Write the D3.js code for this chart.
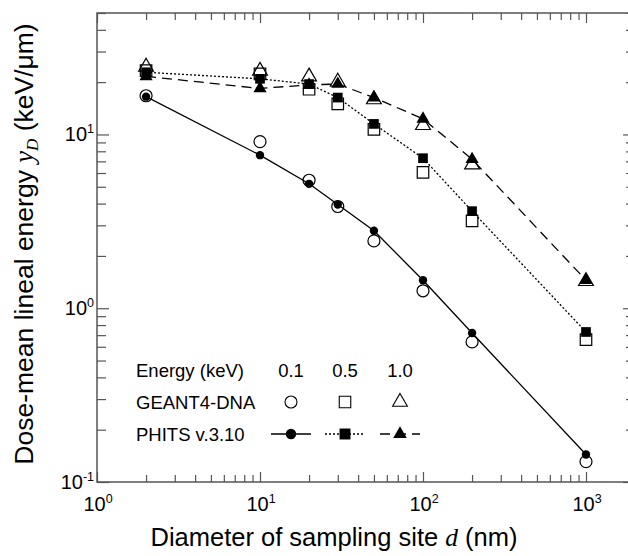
<!DOCTYPE html>
<html>
<head>
<meta charset="utf-8">
<script src="https://cdn.jsdelivr.net/npm/d3@7"></script>
<style>
  body { margin: 0; background: #fff; }
  svg { font-family: "Liberation Sans", Arial, sans-serif; }
</style>
</head>
<body>
<svg id="chart"></svg>
<script>
// diameters of the sampling site (nm)
const diameters = [2, 10, 20, 30, 50, 100, 200, 1000];

// dose-mean lineal energy yD (keV/um)
const geant01 = [16.7, 9.1, 5.45, 3.85, 2.44, 1.26, 0.64, 0.131];
const phits01 = [16.5, 7.6, 5.2, 3.95, 2.79, 1.45, 0.72, 0.144];
const geant05 = [23.3, 22.3, 18.2, 15.0, 10.7, 6.05, 3.18, 0.66];
const phits05 = [22.8, 20.9, 19.5, 16.3, 11.5, 7.3, 3.62, 0.73];
const geant10 = [24.5, 23.2, 21.5, 20.1, 15.9, 11.3, 6.7, 1.43];
const phits10 = [21.6, 18.4, 19.3, 19.5, 16.3, 12.3, 7.2, 1.45];

const energies = ["0.1", "0.5", "1.0"];
const xMajor = [1, 10, 100, 1000];
const yMajor = [0.1, 1, 10];
const xExp = ["0", "1", "2", "3"];
const yExp = ["-1", "0", "1"];

const width = 628, height = 556;
const svg = d3.select("#chart").attr("width", width).attr("height", height);

const x = d3.scaleLog().domain([1, 2000]).range([97, 97 + 163 * Math.log10(2000)]);
const y = d3.scaleLog().domain([0.1, 50]).range([482, 13]);

const x0 = x.range()[0], x1 = x.range()[1], y0 = y.range()[0], y1 = y.range()[1];

// minor tick values
function minors(lo, hi) {
  const out = [];
  for (let d = lo; d < hi; d *= 10)
    for (let k = 2; k <= 9; k++) if (d * k <= hi) out.push(d * k);
  return out;
}
const xMinor = minors(1, 2000);
const yMinor = minors(0.1, 50);

// frame
svg.append("rect")
  .attr("x", x0).attr("y", y1)
  .attr("width", x1 - x0).attr("height", y0 - y1)
  .attr("fill", "none").attr("stroke", "#555").attr("stroke-width", 1.5);

// ticks (pointing inward)
function tickAxis(axis, tr, vals, size) {
  const g = svg.append("g").attr("transform", tr)
    .call(axis.tickValues(vals).tickSize(-size).tickSizeOuter(0).tickFormat(""));
  g.select(".domain").remove();
  g.selectAll("line").attr("stroke", "#555").attr("stroke-width", 1.2);
}
tickAxis(d3.axisBottom(x), `translate(0,${y0})`, xMajor, 10);
tickAxis(d3.axisBottom(x), `translate(0,${y0})`, xMinor, 7);
tickAxis(d3.axisTop(x), `translate(0,${y1})`, xMajor, 10);
tickAxis(d3.axisTop(x), `translate(0,${y1})`, xMinor, 7);
tickAxis(d3.axisLeft(y), `translate(${x0},0)`, yMajor, 12);
tickAxis(d3.axisLeft(y), `translate(${x0},0)`, yMinor, 9);
tickAxis(d3.axisRight(y), `translate(${x1},0)`, yMajor, 12);
tickAxis(d3.axisRight(y), `translate(${x1},0)`, yMinor, 9);

// tick labels with superscripts
xMajor.forEach((v, i) => {
  const t = svg.append("text")
    .attr("x", x(v) + 1).attr("y", 511)
    .attr("text-anchor", "middle")
    .attr("font-size", 20);
  t.append("tspan").text("10");
  t.append("tspan").attr("dy", -8).attr("font-size", 12.5).text(xExp[i]);
});
yMajor.forEach((v, i) => {
  const t = svg.append("text")
    .attr("x", 94).attr("y", y(v) + 7)
    .attr("text-anchor", "end")
    .attr("font-size", 20);
  t.append("tspan").text("10");
  t.append("tspan").attr("dy", -8).attr("font-size", 12.5).text(yExp[i]);
});

// axis titles
const xt = svg.append("text")
  .attr("x", 334).attr("y", 546)
  .attr("text-anchor", "middle")
  .attr("font-size", 25.5);
xt.append("tspan").text("Diameter of sampling site ");
xt.append("tspan").attr("font-family", "Liberation Serif").attr("font-style", "italic").text("d");
xt.append("tspan").text(" (nm)");

const yt = svg.append("text")
  .attr("transform", `translate(33,244) rotate(-90)`)
  .attr("text-anchor", "middle")
  .attr("font-size", 26.5);
yt.append("tspan").text("Dose-mean lineal energy ");
yt.append("tspan").attr("font-family", "Liberation Serif").attr("font-style", "italic").text("y");
yt.append("tspan").attr("font-family", "Liberation Serif").attr("font-style", "italic")
  .attr("font-size", 17).attr("dy", 5).text("D");
yt.append("tspan").attr("dy", -5).text(" (keV/\u03bcm)");

// series
const series = [
  { geant: geant01, phits: phits01, shape: d3.symbolCircle, dash: null, openSize: 113, fillSize: 55, legFill: 85 },
  { geant: geant05, phits: phits05, shape: d3.symbolSquare, dash: "2,2", openSize: 132, fillSize: 94, legFill: 120 },
  { geant: geant10, phits: phits10, shape: d3.symbolTriangle, dash: "10,6", openSize: 95, fillSize: 75, legFill: 80 }
];

const line = d3.line().x(d => x(d[0])).y(d => y(d[1]));

series.forEach(s => {
  // open symbols (GEANT4-DNA)
  svg.append("g").selectAll("path")
    .data(diameters.map((d, i) => [d, s.geant[i]]))
    .join("path")
    .attr("transform", d => `translate(${x(d[0])},${y(d[1])})`)
    .attr("d", d3.symbol(s.shape, s.openSize))
    .attr("fill", "none").attr("stroke", "#000").attr("stroke-width", 1.2);
});

series.forEach(s => {
  const pts = diameters.map((d, i) => [d, s.phits[i]]);
  svg.append("path")
    .datum(pts)
    .attr("d", line)
    .attr("fill", "none").attr("stroke", "#000").attr("stroke-width", 1.3)
    .attr("stroke-dasharray", s.dash);
  svg.append("g").selectAll("path")
    .data(pts)
    .join("path")
    .attr("transform", d => `translate(${x(d[0])},${y(d[1])})`)
    .attr("d", d3.symbol(s.shape, s.fillSize))
    .attr("fill", "#000");
});

// legend
const legX = [291, 345, 400];
const legFont = 18.5;
const rowY = [376.5, 408.5, 441];
svg.append("text").attr("x", 136).attr("y", rowY[0]).attr("font-size", legFont).text("Energy (keV)");
svg.append("text").attr("x", 136).attr("y", rowY[1]).attr("font-size", legFont).text("GEANT4-DNA");
svg.append("text").attr("x", 136).attr("y", rowY[2]).attr("font-size", legFont).text("PHITS v.3.10");

energies.forEach((e, i) => {
  const s = series[i];
  svg.append("text").attr("x", legX[i]).attr("y", rowY[0])
    .attr("text-anchor", "middle").attr("font-size", legFont).text(e);
  svg.append("path")
    .attr("transform", `translate(${legX[i]},${rowY[1] - 6.5})`)
    .attr("d", d3.symbol(s.shape, s.openSize))
    .attr("fill", "none").attr("stroke", "#000").attr("stroke-width", 1.1);
  svg.append("line")
    .attr("x1", legX[i] - 20).attr("x2", legX[i] + 20)
    .attr("y1", rowY[2] - 7).attr("y2", rowY[2] - 7)
    .attr("stroke", "#000").attr("stroke-width", 1.3)
    .attr("stroke-dasharray", s.dash);
  svg.append("path")
    .attr("transform", `translate(${legX[i]},${rowY[2] - 7})`)
    .attr("d", d3.symbol(s.shape, s.legFill))
    .attr("fill", "#000");
});
</script>
</body>
</html>
